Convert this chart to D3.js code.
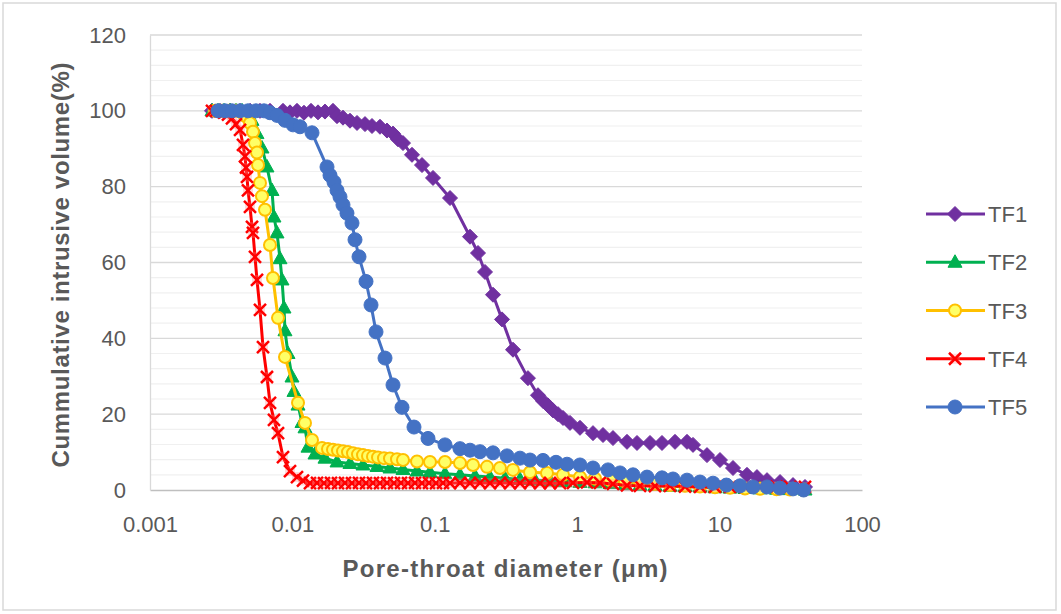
<!DOCTYPE html>
<html>
<head>
<meta charset="utf-8">
<script src="https://cdn.jsdelivr.net/npm/d3@7"></script>
<style>
  body { margin: 0; background: #fff; }
  text { font-family: "Liberation Sans", Arial, sans-serif; }
</style>
</head>
<body>
<div id="chart"></div>
<script>
var w = 1061, h = 614;

// pore-throat diameter (um) and cumulative intrusion (%)
var tf1D = [0.002725,0.0031,0.00365,0.00429,0.00504,0.00592,0.00696,0.00859,0.00962,0.01077,0.01206,0.01351,0.01513,0.01694,0.01928,0.02057,0.02266,0.02538,0.02843,0.03235,0.03622,0.04122,0.04616,0.05087,0.05515,0.0598,0.06916,0.08131,0.09714,0.1279,0.1767,0.2011,0.2252,0.2563,0.2965,0.3542,0.4511,0.5304,0.5752,0.6236,0.6763,0.7333,0.7951,0.8902,1.046,1.291,1.518,1.784,2.237,2.63,3.245,3.94,4.862,5.904,6.505,8.155,10.06,12.42,15.57,18.3,21.53,26.57,32.77,39.79];
var tf1V = [100,100,100,100,100,100,100,100,99.6,100,99.5,100,99.6,99.8,100,98.6,98.2,97.4,96.8,96.5,96,95.8,94.8,94,92.5,91.5,88.4,85.7,82.3,77,66.8,62.5,57.5,51.5,45,37,29.5,25,23.5,22.3,21,20,19,17.7,16.4,15,14.5,13.7,12.7,12.4,12.4,12.4,12.7,12.7,11.9,9.2,7.9,5.8,4,3.4,2.6,2.1,1.3,0.8];

var tf2D = [0.002725,0.003003,0.003309,0.00365,0.004018,0.004428,0.0048,0.005204,0.005641,0.006116,0.00663,0.007188,0.007424,0.007797,0.008182,0.008453,0.00873,0.00887,0.009314,0.009936,0.01026,0.01095,0.01168,0.01226,0.01287,0.01441,0.01694,0.02057,0.02538,0.03132,0.03928,0.04845,0.0598,0.075,0.0925,0.1179,0.1503,0.1916,0.2441,0.3112,0.3966,0.5054,0.644,0.8212,1.046,1.334,1.7,2.167,2.76,3.518,4.48,5.715,7.285,9.284,11.83,15.08,19.22,25.11,31.22,39.79];
var tf2V = [100,100,100,100,100,100,99,97.5,94,90.2,85.2,79,72,67.8,61,55.4,48,42,36,29.8,26,22.4,17.8,16.4,11.3,9.5,8.4,7.4,7,6.6,6.2,5.8,5.4,5,4.7,4.3,4,3.7,3.4,3.1,2.8,2.6,2.4,2.2,2,1.9,1.7,1.5,1.3,1.2,1,0.9,0.8,0.6,0.5,0.4,0.3,0.2,0.1,0];

var tf3D = [0.002861,0.003203,0.003587,0.004018,0.004428,0.004723,0.005038,0.005288,0.005462,0.005641,0.005734,0.005922,0.006116,0.006421,0.00696,0.007306,0.007922,0.008872,0.01095,0.01226,0.01373,0.01614,0.01778,0.01928,0.0209,0.02266,0.02457,0.02664,0.02888,0.03132,0.03396,0.03681,0.03992,0.04398,0.04845,0.05427,0.0598,0.075,0.0925,0.1179,0.1503,0.1855,0.2326,0.287,0.3542,0.4662,0.6136,0.7951,1.046,1.334,1.7,2.167,2.76,3.518,4.48,5.715,7.285,9.284,11.83,15.08,19.22,25.11,31.22,38.93];
var tf3V = [100,100,100,100,99.5,98.5,96.8,94.5,91.5,89,85.7,81,77.5,73.9,64.6,55.9,45.4,35.1,23,17.7,13.2,11.1,10.8,10.6,10.4,10.2,10,9.7,9.4,9.2,9,8.8,8.6,8.4,8.3,8.1,7.9,7.5,7.4,7.4,7.1,6.6,6.1,5.8,5.3,4.7,4.5,4,3.4,3,2.6,2.2,1.9,1.6,1.3,1.1,0.9,0.7,0.6,0.4,0.3,0.2,0.1,0];

var tf4D = [0.002725,0.002908,0.0031,0.003309,0.00353,0.003765,0.004018,0.00429,0.004499,0.004646,0.004723,0.0048,0.004878,0.005038,0.005204,0.005288,0.005462,0.005641,0.005922,0.006217,0.00663,0.00696,0.007424,0.007922,0.00859,0.00962,0.01077,0.01187,0.01329,0.01489,0.01667,0.01867,0.0209,0.02341,0.02621,0.02936,0.03288,0.03681,0.04122,0.04616,0.0517,0.05789,0.06484,0.07261,0.08131,0.09106,0.102,0.1142,0.1279,0.1503,0.1767,0.2077,0.2441,0.287,0.3374,0.3966,0.4662,0.548,0.644,0.757,0.934,1.172,1.446,1.784,2.237,2.76,3.518,4.48,5.715,7.285,9.284,11.83,15.08,19.22,25.11,31.22,39.79];
var tf4V = [100,100,100,99.5,99,98,96.5,95,91,88,85,82.6,79,74.7,69.4,67.8,61.5,55.4,47.5,37.7,29.8,23,18.5,15,8.7,5,3.4,2.5,1.8,1.9,1.8,1.9,1.8,1.9,1.8,1.9,1.8,1.9,1.8,1.9,1.8,1.9,1.8,1.9,1.8,1.9,1.8,1.9,1.8,1.9,1.8,1.9,1.8,1.9,1.8,1.8,1.9,1.8,1.8,1.8,1.9,2,1.9,1.6,1.2,1.1,1,1.1,0.9,0.8,0.8,0.8,0.8,0.8,0.9,0.8,0.8];

var tf5D = [0.003003,0.003363,0.003765,0.00429,0.004878,0.005551,0.006318,0.00696,0.007797,0.008872,0.0101,0.01131,0.01373,0.0175,0.01837,0.0196,0.02057,0.02159,0.02266,0.02417,0.02621,0.02752,0.02936,0.03288,0.03565,0.03865,0.0447,0.05087,0.05885,0.07143,0.0896,0.1179,0.1503,0.1767,0.2077,0.2563,0.3214,0.3966,0.4662,0.5752,0.7099,0.8481,1.046,1.291,1.646,1.998,2.466,3.092,3.94,4.708,5.904,7.285,8.989,11.16,13.91,17.16,21.53,26.57,32.77,38.93];
var tf5V = [100,100,100,100,100,100,100,99.5,98.8,97.5,96.3,95.8,94.2,85.2,83,81.2,79,77.3,75.2,73,70.4,66,61.5,55,48.8,41.7,34.8,27.7,21.8,16.6,13.6,11.9,10.9,10.5,10.1,9.8,9,8.4,7.9,7.8,7.3,6.8,6.6,5.8,5.3,4.5,4,3.4,3.2,2.9,2.6,2.1,1.8,1.3,1.1,0.8,0.8,0.5,0.3,0];

var names = ["TF1", "TF2", "TF3", "TF4", "TF5"];
var xTicks = [0.001, 0.01, 0.1, 1, 10, 100];
var xTickLabels = ["0.001", "0.01", "0.1", "1", "10", "100"];
var yTicks = [0, 20, 40, 60, 80, 100, 120];

var series = [
  {name: names[0], d: tf1D, v: tf1V, line: "#7030A0", fill: "#7030A0", shape: "diamond"},
  {name: names[1], d: tf2D, v: tf2V, line: "#00B050", fill: "#00B050", shape: "triangle"},
  {name: names[2], d: tf3D, v: tf3V, line: "#FFC000", fill: "#FFFF66", shape: "ring"},
  {name: names[3], d: tf4D, v: tf4V, line: "#FF0000", fill: "#FF0000", shape: "x"},
  {name: names[4], d: tf5D, v: tf5V, line: "#4472C4", fill: "#4472C4", shape: "circle"}
];

var svg = d3.select("#chart").append("svg")
    .attr("width", w)
    .attr("height", h);

svg.append("rect")
    .attr("x", 3).attr("y", 3)
    .attr("width", 1053).attr("height", 607)
    .attr("fill", "#fff")
    .attr("stroke", "#d9d9d9")
    .attr("stroke-width", 1.5);

var x = d3.scaleLog().domain([0.001, 100]).range([150, 862]);
var y = d3.scaleLinear().domain([0, 120]).range([490, 35]);

// minor gridlines every 4, major every 20
svg.append("g")
  .selectAll("line")
  .data(d3.range(4, 120, 4).filter(function(v) { return v % 20 !== 0; }))
  .join("line")
    .attr("x1", 150).attr("x2", 862)
    .attr("y1", function(v) { return y(v); })
    .attr("y2", function(v) { return y(v); })
    .attr("stroke", "#f0f0f0")
    .attr("stroke-width", 1.2);

svg.append("g")
  .selectAll("line")
  .data(yTicks.slice(1))
  .join("line")
    .attr("x1", 150).attr("x2", 862)
    .attr("y1", function(v) { return y(v); })
    .attr("y2", function(v) { return y(v); })
    .attr("stroke", "#d9d9d9")
    .attr("stroke-width", 1.3);

var xAxis = d3.axisBottom(x)
    .tickValues(xTicks)
    .tickFormat(function(d, i) { return xTickLabels[i]; })
    .tickSize(0)
    .tickPadding(26);

var gx = svg.append("g")
    .attr("transform", "translate(0,490)")
    .call(xAxis);
gx.select(".domain").attr("stroke", "#bfbfbf").attr("stroke-width", 1.3);
gx.selectAll("text").attr("font-size", 22).attr("fill", "#595959")
    .style("font-family", "'Liberation Sans', Arial, sans-serif");

var yAxis = d3.axisLeft(y)
    .tickValues(yTicks)
    .tickSize(0)
    .tickPadding(24);

var gy = svg.append("g")
    .attr("transform", "translate(150,0)")
    .call(yAxis);
gy.select(".domain").attr("stroke", "#d9d9d9").attr("stroke-width", 1.3);
gy.selectAll("text").attr("font-size", 22).attr("fill", "#595959")
    .style("font-family", "'Liberation Sans', Arial, sans-serif");

function marker(g, s) {
  if (s.shape === "diamond") {
    g.append("path").attr("d", "M0,-7.5L7.5,0L0,7.5L-7.5,0Z")
      .attr("fill", s.fill).attr("stroke", s.line).attr("stroke-width", 1);
  } else if (s.shape === "triangle") {
    g.append("path").attr("d", "M0,-7.5L7,5L-7,5Z")
      .attr("fill", s.fill).attr("stroke", s.line).attr("stroke-width", 1);
  } else if (s.shape === "ring") {
    g.append("circle").attr("r", 6)
      .attr("fill", s.fill).attr("stroke", s.line).attr("stroke-width", 2);
  } else if (s.shape === "x") {
    g.append("rect").attr("x", -5).attr("y", -5).attr("width", 10).attr("height", 10)
      .attr("fill", "#ff8080").attr("opacity", 0.3);
    g.append("path").attr("d", "M-6,-6L6,6M-6,6L6,-6")
      .attr("stroke", s.line).attr("stroke-width", 2.5).attr("fill", "none");
  } else {
    g.append("circle").attr("r", 7)
      .attr("fill", s.fill).attr("stroke", s.line).attr("stroke-width", 1);
  }
}

var line = d3.line()
    .x(function(p) { return x(p[0]); })
    .y(function(p) { return y(p[1]); });

series.forEach(function(s) {
  var pts = d3.zip(s.d, s.v);
  var g = svg.append("g");
  g.append("path")
    .datum(pts)
    .attr("d", line)
    .attr("fill", "none")
    .attr("stroke", s.line)
    .attr("stroke-width", 3)
    .attr("stroke-linejoin", "round");
  g.selectAll("g.m")
    .data(pts)
    .join("g")
      .attr("class", "m")
      .attr("transform", function(p) { return "translate(" + x(p[0]) + "," + y(p[1]) + ")"; })
      .each(function() { marker(d3.select(this), s); });
});

// axis titles
svg.append("text")
    .attr("x", 505).attr("y", 577)
    .attr("text-anchor", "middle")
    .attr("font-size", 24).attr("font-weight", "bold")
    .attr("fill", "#595959")
    .attr("textLength", 325).attr("lengthAdjust", "spacing")
    .text("Pore-throat diameter (μm)");

svg.append("text")
    .attr("transform", "translate(69,265) rotate(-90)")
    .attr("text-anchor", "middle")
    .attr("font-size", 24).attr("font-weight", "bold")
    .attr("fill", "#595959")
    .attr("textLength", 405).attr("lengthAdjust", "spacing")
    .text("Cummulative intrusive volume(%)");

// legend
var legend = svg.append("g");
var rowY = d3.scalePoint().domain(names).range([214, 407]);
series.forEach(function(s) {
  var g = legend.append("g").attr("transform", "translate(0," + rowY(s.name) + ")");
  g.append("line").attr("x1", 926).attr("x2", 985).attr("y1", 0).attr("y2", 0)
    .attr("stroke", s.line).attr("stroke-width", 3);
  marker(g.append("g").attr("transform", "translate(955,0)"), s);
  g.append("text").attr("x", 988).attr("y", 8)
    .attr("font-size", 22).attr("fill", "#595959")
    .text(s.name);
});
</script>
</body>
</html>
